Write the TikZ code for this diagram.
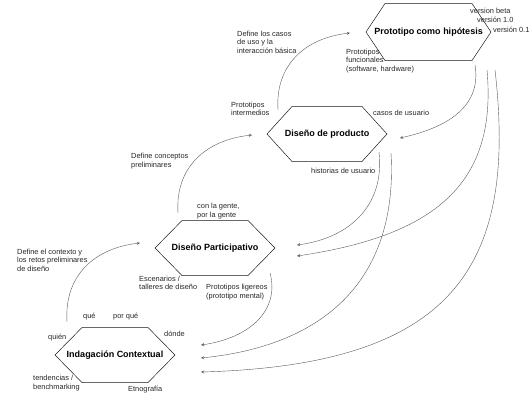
\documentclass[tikz,border=0pt]{standalone}
\usepackage{fontspec}
\setmainfont{Liberation Sans}
\usetikzlibrary{arrows, calc}

\tikzset{
  hexbox/.style={minimum width=120pt, minimum height=55pt, inner sep=0pt, outer sep=0pt,
    font=\bfseries\fontsize{9}{11}\selectfont},
  hexline/.style={line width=0.5pt, draw=black!90},
  note/.style={anchor=west, inner sep=0pt, align=left, text=black!85,
    font=\fontsize{7.4}{8.6}\selectfont},
  flow/.style={-stealth, line width=0.4pt, draw=black!65}
}

\begin{document}
\begin{tikzpicture}[x=1pt, y=-1pt]
\useasboundingbox (0,0) rectangle (532,400);

% four stages
\node[hexbox, minimum width=125pt, minimum height=57pt] (hyp) at (428.5,32) {Prototipo como hipótesis};
\node[hexbox] (prod) at (327,134) {Diseño de producto};
\node[hexbox] (part) at (215,248) {Diseño Participativo};
\node[hexbox] (ind) at (115,355) {Indagación Contextual};

% hexagon outlines
\foreach \n/\off in {hyp/19, prod/25, part/27, ind/27}
  \draw[hexline] (\n.west) -- ($(\n.north west)+(\off,0)$) -- ($(\n.north east)+(-\off,0)$)
    -- (\n.east) -- ($(\n.south east)+(-\off,0)$) -- ($(\n.south west)+(\off,0)$) -- cycle;

% free ends of the curves
\coordinate (indup) at (67,322);
\coordinate (partin) at (140,243);
\coordinate (partup) at (178,213);
\coordinate (prodin) at (252,135);
\coordinate (produp) at (278,110);
\coordinate (hypin) at (350,33);
\coordinate (hypa) at (475,65);
\coordinate (hypb) at (487,70);
\coordinate (hypc) at (495,70);
\coordinate (prodback) at (400,138);
\coordinate (proda) at (379,152);
\coordinate (prodb) at (391,153);
\coordinate (partdown) at (270,273);
\coordinate (partbacka) at (297,245);
\coordinate (partbackb) at (297,256);
\coordinate (indbacka) at (201,345);
\coordinate (indbackb) at (201,358);
\coordinate (indbackc) at (201,372);

% going up on the left
\draw[flow] (indup) .. controls (64,275) and (95,248) .. (partin);
\draw[flow] (partup) .. controls (175,168) and (205,140) .. (prodin);
\draw[flow] (produp) .. controls (275,65) and (305,38) .. (hypin);

% coming back on the right
\draw[flow] (hypa) .. controls (482,108) and (445,128) .. (prodback);
\draw[flow] (hypb) .. controls (497,180) and (440,235) .. (partbackb);
\draw[flow] (hypc) .. controls (518,270) and (450,365) .. (indbackc);
\draw[flow] (proda) .. controls (385,205) and (350,238) .. (partbacka);
\draw[flow] (prodb) .. controls (398,275) and (330,345) .. (indbackb);
\draw[flow] (partdown) .. controls (280,310) and (250,338) .. (indbacka);

% labels
\node[note] (vbeta) at (470,11) {version beta};
\node[note] (vone) at (477,20) {versión 1.0};
\node[note] (vzero) at (493,29.5) {versión 0.1};
\node[note] (func) at (346,61) {Prototipos\\funcionales\\(software, hardware)};
\node[note] (casos) at (237,42) {Define los casos\\de uso y la\\interacción básica};
\node[note] (inter) at (231,109) {Prototipos\\intermedios};
\node[note] (cusu) at (373,113) {casos de usuario};
\node[note] (husu) at (311,171) {historias de usuario};
\node[note] (concep) at (131,161) {Define conceptos\\preliminares};
\node[note] (gente) at (197,211) {con la gente,\\por la gente};
\node[note] (escen) at (139,283) {Escenarios /\\talleres de diseño};
\node[note] (ligero) at (206,292) {Prototipos ligereos\\(prototipo mental)};
\node[note] (contex) at (17,260) {Define el contexto y\\los retos preliminares\\de diseño};
\node[note] (que) at (83,317) {qué};
\node[note] (porque) at (113,317) {por qué};
\node[note] (quien) at (48,338) {quién};
\node[note] (donde) at (164,334) {dónde};
\node[note] (tend) at (33,383) {tendencias /\\benchmarking};
\node[note] (etno) at (128,390) {Etnografía};
\end{tikzpicture}
\end{document}
